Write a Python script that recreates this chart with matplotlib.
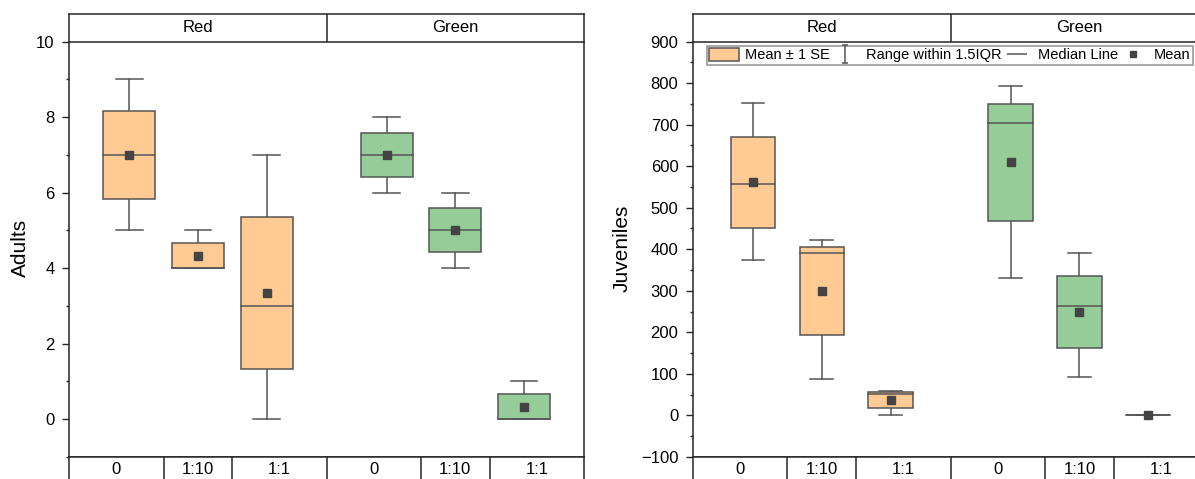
import numpy as np
import matplotlib.pyplot as plt
from matplotlib.patches import Rectangle, Patch
from matplotlib.lines import Line2D
from matplotlib.path import Path
from matplotlib.ticker import MultipleLocator

plt.rcParams['font.family'] = ['Liberation Sans', 'DejaVu Sans']

# categories
groups = ['Red', 'Green']
ratios = ['0', '1:10', '1:1', '0', '1:10', '1:1']
positions = [1, 2, 3, 4.75, 5.75, 6.75]
fills = ['#ffca94'] * 3 + ['#95cc97'] * 3

# Adults: whisker range, mean +- 1 SE box, median, mean
adult_wlo = [5, 4, 0, 6, 4, 0]
adult_whi = [9, 5, 7, 8, 6, 1]
adult_se_lo = [5.84, 4.0, 1.32, 6.42, 4.42, 0.0]
adult_se_hi = [8.15, 4.67, 5.36, 7.58, 5.58, 0.66]
adult_median = [7, 4, 3, 7, 5, 0]
adult_mean = [7, 4.33, 3.33, 7, 5, 0.33]

# Juveniles
juv_wlo = [374, 88, 0, 331, 93, 0]
juv_whi = [753, 422, 60, 794, 390, 0]
juv_se_lo = [452, 194, 18, 467, 163, 0]
juv_se_hi = [671, 406, 56, 750, 335, 0]
juv_median = [558, 390, 51, 703, 264, 0]
juv_mean = [561, 300, 38, 609, 249, 0]

W, H = 1195, 479
XLIM = (0.12, 7.63)
edge = '#555555'
spine_c = '#262626'


def add_px_axes(fig, left, top, right, bottom):
    return fig.add_axes([left / W, 1 - bottom / H, (right - left) / W, (bottom - top) / H])


def draw_boxes(ax, wlo, whi, se_lo, se_hi, med, mean, box_w, cap_w):
    for i, x in enumerate(positions):
        # усы
        ax.plot([x, x], [wlo[i], se_lo[i]], color=edge, lw=1.1, zorder=2)
        ax.plot([x, x], [se_hi[i], whi[i]], color=edge, lw=1.1, zorder=2)
        ax.plot([x - cap_w / 2, x + cap_w / 2], [wlo[i]] * 2, color=edge, lw=1.1, zorder=2)
        ax.plot([x - cap_w / 2, x + cap_w / 2], [whi[i]] * 2, color=edge, lw=1.1, zorder=2)
        # коробка
        ax.add_patch(Rectangle((x - box_w / 2, se_lo[i]), box_w, se_hi[i] - se_lo[i],
                               facecolor=fills[i], edgecolor=edge, lw=1.1, zorder=3))
        ax.plot([x - box_w / 2, x + box_w / 2], [med[i]] * 2, color=edge, lw=1.1, zorder=4)
        ax.plot(x, mean[i], 's', color='#444444', ms=6, zorder=5)


def style_main(ax, ylim, major, minor):
    ax.set_xlim(XLIM)
    ax.set_ylim(ylim)
    ax.set_xticks([])
    ax.yaxis.set_major_locator(MultipleLocator(major))
    ax.yaxis.set_minor_locator(MultipleLocator(minor))
    ax.tick_params(axis='y', which='major', direction='out', length=5.3, width=1,
                   labelsize=12, pad=5, color=spine_c)
    ax.tick_params(axis='y', which='minor', direction='out', length=2.2, width=1, color=spine_c)
    for s in ax.spines.values():
        s.set_linewidth(1.1)
        s.set_color(spine_c)
    ax.spines['top'].set_visible(False)


def add_strips(fig, left, right):
    head = add_px_axes(fig, left, 14, right, 41.5)
    head.set_xlim(XLIM)
    head.set_ylim(0, 1)
    head.set_xticks([])
    head.set_yticks([])
    head.axvline(3.875, color=spine_c, lw=1.1)
    head.text(2, 0.5, groups[0], ha='center', va='center', fontsize=12)
    head.text(5.75, 0.5, groups[1], ha='center', va='center', fontsize=12)

    foot = add_px_axes(fig, left, 457, right, 483)
    foot.set_xlim(XLIM)
    foot.set_ylim(0, 1)
    foot.set_xticks([])
    foot.set_yticks([])
    bounds = [XLIM[0], 1.5, 2.5, 3.875, 5.25, 6.25, XLIM[1]]
    for b in bounds[1:-1]:
        foot.axvline(b, color=spine_c, lw=1.1)
    for k, lab in enumerate(ratios):
        foot.text((bounds[k] + bounds[k + 1]) / 2, 0.5, lab, ha='center', va='center', fontsize=12)
    for ax in (head, foot):
        for s in ax.spines.values():
            s.set_linewidth(1.1)
            s.set_color(spine_c)


fig = plt.figure(figsize=(W / 100, H / 100), dpi=100)

# Левая панель
ax1 = add_px_axes(fig, 68.9, 41.5, 584.4, 457)
draw_boxes(ax1, adult_wlo, adult_whi, adult_se_lo, adult_se_hi, adult_median, adult_mean, 0.76, 0.39)
style_main(ax1, (-1, 10), 2, 1)
add_strips(fig, 68.9, 584.4)
fig.text(20 / W, 1 - 248 / H, 'Adults', rotation=90, ha='center', va='center', fontsize=15)

# Правая панель
ax2 = add_px_axes(fig, 692.7, 41.5, 1208.5, 457)
draw_boxes(ax2, juv_wlo, juv_whi, juv_se_lo, juv_se_hi, juv_median, juv_mean, 0.65, 0.33)
style_main(ax2, (-100, 900), 100, 50)
add_strips(fig, 692.7, 1208.5)
fig.text(622 / W, 1 - 248 / H, 'Juveniles', rotation=90, ha='center', va='center', fontsize=15)

# Легенда
ibeam = Path([(-0.35, 1), (0.35, 1), (0, 1), (0, -1), (-0.35, -1), (0.35, -1)],
             [Path.MOVETO, Path.LINETO, Path.MOVETO, Path.LINETO, Path.MOVETO, Path.LINETO])
handles = [
    Patch(facecolor=fills[0], edgecolor=edge, lw=1.1),
    Line2D([], [], ls='none', marker=ibeam, ms=12.5, mew=1.1, color=edge, fillstyle='none'),
    Line2D([], [], ls='none', marker='_', ms=14.4, mew=1.1, color=edge),
    Line2D([], [], ls='none', marker='s', ms=4.5, color='#444444'),
]
labels = ['Mean \u00b1 1 SE', 'Range within 1.5IQR', 'Median Line', 'Mean']
leg = ax2.legend(handles, labels, loc='upper left', bbox_to_anchor=(0.027, 0.99),
                 ncol=4, fontsize=10.5, handlelength=2.1, handleheight=1.0,
                 handletextpad=0.38, columnspacing=0.0, borderpad=0.15,
                 borderaxespad=0, fancybox=False, framealpha=1)
leg.get_frame().set_edgecolor('#9a9a9a')
leg.get_frame().set_linewidth(1.2)

plt.savefig('out.png', dpi=100)
